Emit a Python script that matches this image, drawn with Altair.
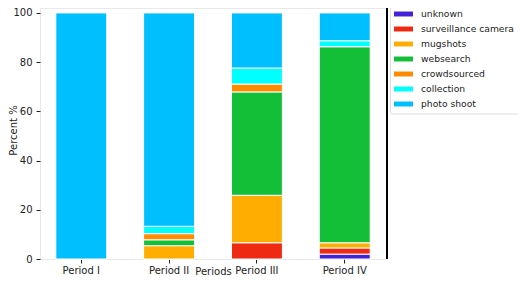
import altair as alt
import pandas as pd

periods = ["Period I", "Period II", "Period III", "Period IV"]
sources = ["unknown", "surveillance camera", "mugshots", "websearch",
           "crowdsourced", "collection", "photo shoot"]
colors = ["#4422d8", "#ee2a12", "#ffad00", "#12bf36", "#ff8c00", "#00ffff", "#00bfff"]

# percent per source, one list per period (order as in `sources`)
period_i = [0, 0, 0, 0, 0, 0, 100]
period_ii = [0, 0, 5.4, 2.4, 2.5, 3.0, 86.7]
period_iii = [0, 6.6, 19.3, 42.0, 3.2, 6.5, 22.4]
period_iv = [2.0, 2.5, 2.1, 79.7, 0, 2.4, 11.3]

rows = []
for p, vals in zip(periods, [period_i, period_ii, period_iii, period_iv]):
    for i, (s, v) in enumerate(zip(sources, vals)):
        rows.append({"period": p, "source": s, "value": v, "order": i})
df = pd.DataFrame(rows)

bars = alt.Chart(df).mark_bar(stroke="white", strokeWidth=1).encode(
    x=alt.X("period:N", sort=periods, title="Periods",
            scale=alt.Scale(paddingInner=0.42, paddingOuter=0.18),
            axis=alt.Axis(labelAngle=0, domain=False, tickColor="#222", tickSize=4,
                          labelFontSize=10, titleFontSize=10, labelColor="#222",
                          titleColor="#222", labelPadding=2,
                          titleY=7, titleBaseline="top",
                          labelFont="DejaVu Sans", titleFont="DejaVu Sans",
                          titleFontWeight="normal")),
    y=alt.Y("value:Q", stack="zero", title="Percent %",
            scale=alt.Scale(domain=[0, 102], nice=False),
            axis=alt.Axis(values=[0, 20, 40, 60, 80, 100], grid=False, domain=False,
                          tickColor="#222", tickSize=4, labelFontSize=10,
                          titleFontSize=10, labelColor="#222", titleColor="#222",
                          labelPadding=4, titleX=-24, titleY=122,
                          titleBaseline="alphabetic", titleAngle=270,
                          labelFont="DejaVu Sans",
                          titleFont="DejaVu Sans", titleFontWeight="normal")),
    color=alt.Color("source:N", sort=sources,
                    scale=alt.Scale(domain=sources, range=colors),
                    legend=alt.Legend(title=None, orient="none", legendX=350, legendY=-7.5,
                                      symbolType="M-1,-0.26H1V0.26H-1Z",
                                      symbolSize=361, symbolStrokeWidth=0,
                                      labelFontSize=9.2, labelFont="DejaVu Sans",
                                      labelColor="#222", labelOffset=8,
                                      rowPadding=-4.6, padding=4,
                                      strokeColor="#dddddd", fillColor="white",
                                      cornerRadius=2)),
    order=alt.Order("order:Q"),
)

right_spine = alt.Chart(df).mark_rule(color="black", strokeWidth=1.2).encode(
    x=alt.value(347), y=alt.value(-8), y2=alt.value(251)
)

chart = alt.layer(bars, right_spine).properties(
    width=346, height=251,
    autosize=alt.AutoSizeParams(type="none"),
    padding={"left": 32, "top": 0, "right": 132, "bottom": 17},
).configure_view(stroke="#e8e8e8")

chart.save("out.html", embed_options={"renderer": "svg", "actions": False})
